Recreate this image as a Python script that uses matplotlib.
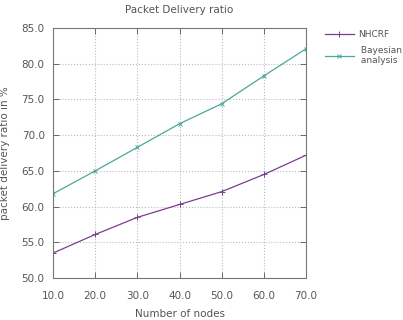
import matplotlib
matplotlib.use("Agg")
from matplotlib import pyplot as plt

nodes = [10, 20, 30, 40, 50, 60, 70]
nhcrf = [53.5, 56.1, 58.5, 60.3, 62.1, 64.5, 67.2]
bayesian = [61.8, 65.0, 68.3, 71.6, 74.4, 78.3, 82.1]
x_ticks = [10, 20, 30, 40, 50, 60, 70]
y_ticks = [50, 55, 60, 65, 70, 75, 80, 85]

text_color = '#555555'

fig = plt.figure(figsize=(4.03, 3.2), dpi=100)
ax = fig.add_axes([0.1315, 0.131, 0.628, 0.7815])

ax.plot(nodes, nhcrf, '-', marker='+', color='#7a3f8c', linewidth=0.9,
        markersize=4, markeredgewidth=0.7, label='NHCRF')
ax.plot(nodes, bayesian, '-', marker='x', color='#4aa898', linewidth=0.9,
        markersize=3.5, markeredgewidth=0.7, label=' Bayesian\n analysis')

ax.set_xlim(10, 70)
ax.set_ylim(50, 85)
ax.set_xticks(x_ticks)
ax.set_yticks(y_ticks)
ax.set_xticklabels([f'{v:.1f}' for v in x_ticks])
ax.set_yticklabels([f'{v:.1f}' for v in y_ticks])
ax.grid(True, linestyle=':', color='#bbbbbb', linewidth=0.8)
ax.tick_params(direction='in', top=True, right=True, labelsize=7.5,
               colors=text_color, length=4, width=0.6, pad=6)
ax.tick_params(axis='x', pad=9)
for spine in ax.spines.values():
    spine.set_color('#777777')
    spine.set_linewidth(0.8)

ax.set_xlabel('Number of nodes', fontsize=7.5, color=text_color, labelpad=6)
ax.set_ylabel('packet delivery ratio in %', fontsize=7.5, color=text_color,
              labelpad=8)
ax.set_title('Packet Delivery ratio', fontsize=7.5, color=text_color, pad=11)

fig.legend(loc='upper left', bbox_to_anchor=(0.79, 0.925), frameon=False,
           fontsize=6.5, handlelength=3.2, handletextpad=0.5, labelspacing=0.7,
           borderaxespad=0.3, labelcolor=text_color)

fig.savefig('out.png', dpi=100)
